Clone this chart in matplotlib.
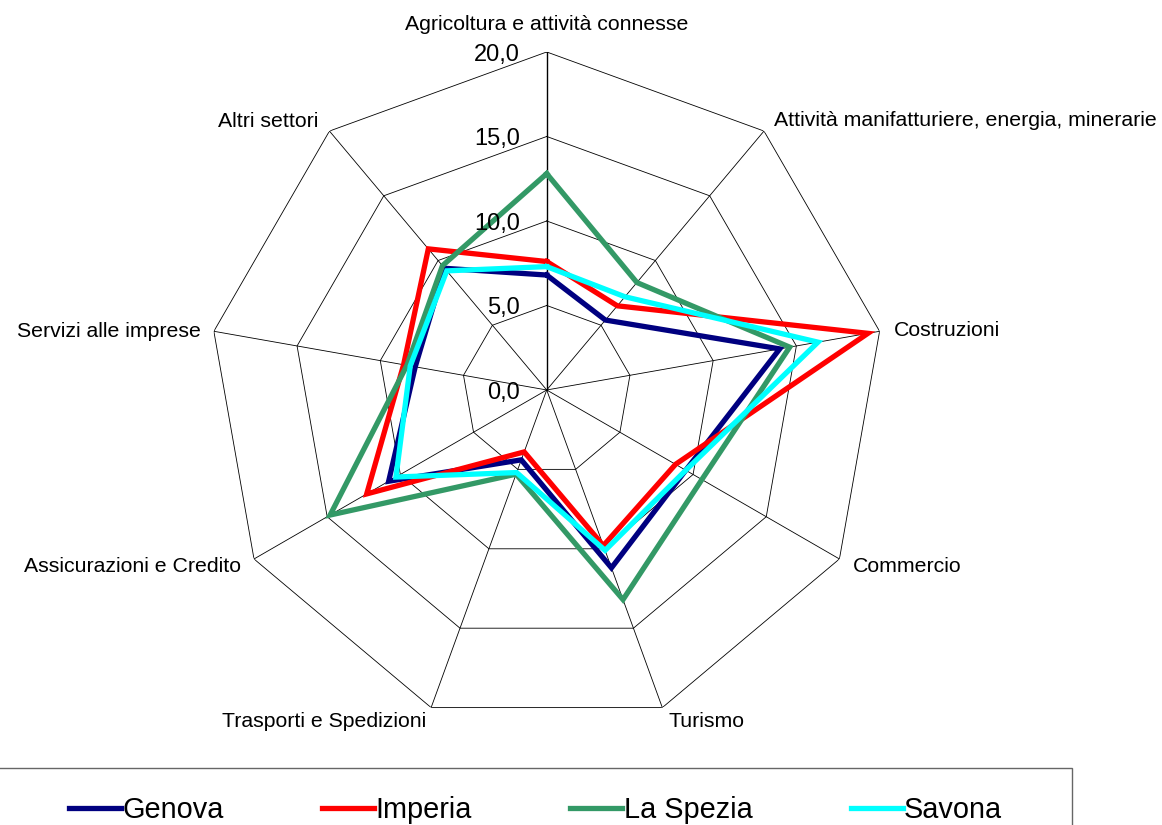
import numpy as np
import matplotlib
matplotlib.use('Agg')
import matplotlib.pyplot as plt
from matplotlib.patches import Rectangle

plt.rcParams['font.family'] = ['Liberation Sans', 'DejaVu Sans']

# Data
categories = ['Agricoltura e attività connesse',
              'Attività manifatturiere, energia, minerarie',
              'Costruzioni', 'Commercio', 'Turismo',
              'Trasporti e Spedizioni', 'Assicurazioni e Credito',
              'Servizi alle imprese', 'Altri settori']
genova = [6.8, 5.4, 14.0, 9.5, 11.2, 4.4, 10.8, 7.9, 9.4]
imperia = [7.6, 6.5, 19.3, 8.8, 9.8, 3.9, 12.3, 8.6, 10.9]
la_spezia = [12.8, 8.3, 14.6, 10.6, 13.2, 5.3, 14.8, 8.4, 9.6]
savona = [7.3, 7.2, 16.3, 9.5, 10.1, 5.2, 10.3, 8.2, 9.2]
series_names = ['Genova', 'Imperia', 'La Spezia', 'Savona']
colors = ['#000080', '#FF0000', '#339966', '#00FFFF']
rings = [5, 10, 15, 20]
tick_values = [0, 5, 10, 15, 20]
tick_labels = ['0,0', '5,0', '10,0', '15,0', '20,0']

n = len(categories)
angles = np.linspace(0, 2 * np.pi, n, endpoint=False)
closed = np.append(angles, angles[0])

fig = plt.figure(figsize=(11.62, 8.25), dpi=100)
ax = fig.add_axes([0.1796, 0.1176, 0.5818, 0.8194], projection='polar')
ax.set_theta_zero_location('N')
ax.set_theta_direction(-1)
ax.set_ylim(0, 20)
ax.grid(False)
ax.set_xticks([])
ax.set_yticks([])
ax.spines['polar'].set_visible(False)
ax.patch.set_alpha(0)

# polygon grid
for r in rings:
    ax.plot(closed, [r] * (n + 1), color='black', lw=0.6, zorder=1)
for i, a in enumerate(angles):
    ax.plot([a, a], [0, 20], color='black', lw=1.0 if i == 0 else 0.6, zorder=1)

# series
for vals, name, c in zip([genova, imperia, la_spezia, savona], series_names, colors):
    ax.plot(closed, vals + [vals[0]], color=c, lw=3.8, label=name, zorder=3,
            solid_joinstyle='miter')

# radial tick labels
for v, t in zip(tick_values, tick_labels):
    ax.annotate(t, xy=(0, v), xytext=(-27, -3), textcoords='offset pixels',
                ha='right', va='center', fontsize=17, annotation_clip=False)

# category labels
offsets = [(0, 27, 'center'), (10, 11, 'left'), (14, 1, 'left'),
           (13, -8, 'left'), (6, -14, 'left'), (-5, -14, 'right'),
           (-13, -8, 'right'), (-13, 0, 'right'), (-11, 10, 'right')]
for a, lab, (dx, dy, ha) in zip(angles, categories, offsets):
    ax.annotate(lab, xy=(a, 20), xytext=(dx, dy), textcoords='offset pixels',
                ha=ha, va='center', fontsize=15.3, annotation_clip=False)

# legend box
fig.patches.append(Rectangle((-0.01, -0.05), 1072 / 1162 + 0.01, 1.05 - 768 / 825,
                             transform=fig.transFigure, fill=False,
                             edgecolor='#666666', lw=1.0))
fig.legend(loc='center left', bbox_to_anchor=(69 / 1162, 1 - 810 / 825), ncol=4,
           frameon=False, fontsize=20.8, handlelength=1.8, handletextpad=0.05,
           columnspacing=3.4, borderpad=0, borderaxespad=0)

fig.savefig('out.png', dpi=100)
